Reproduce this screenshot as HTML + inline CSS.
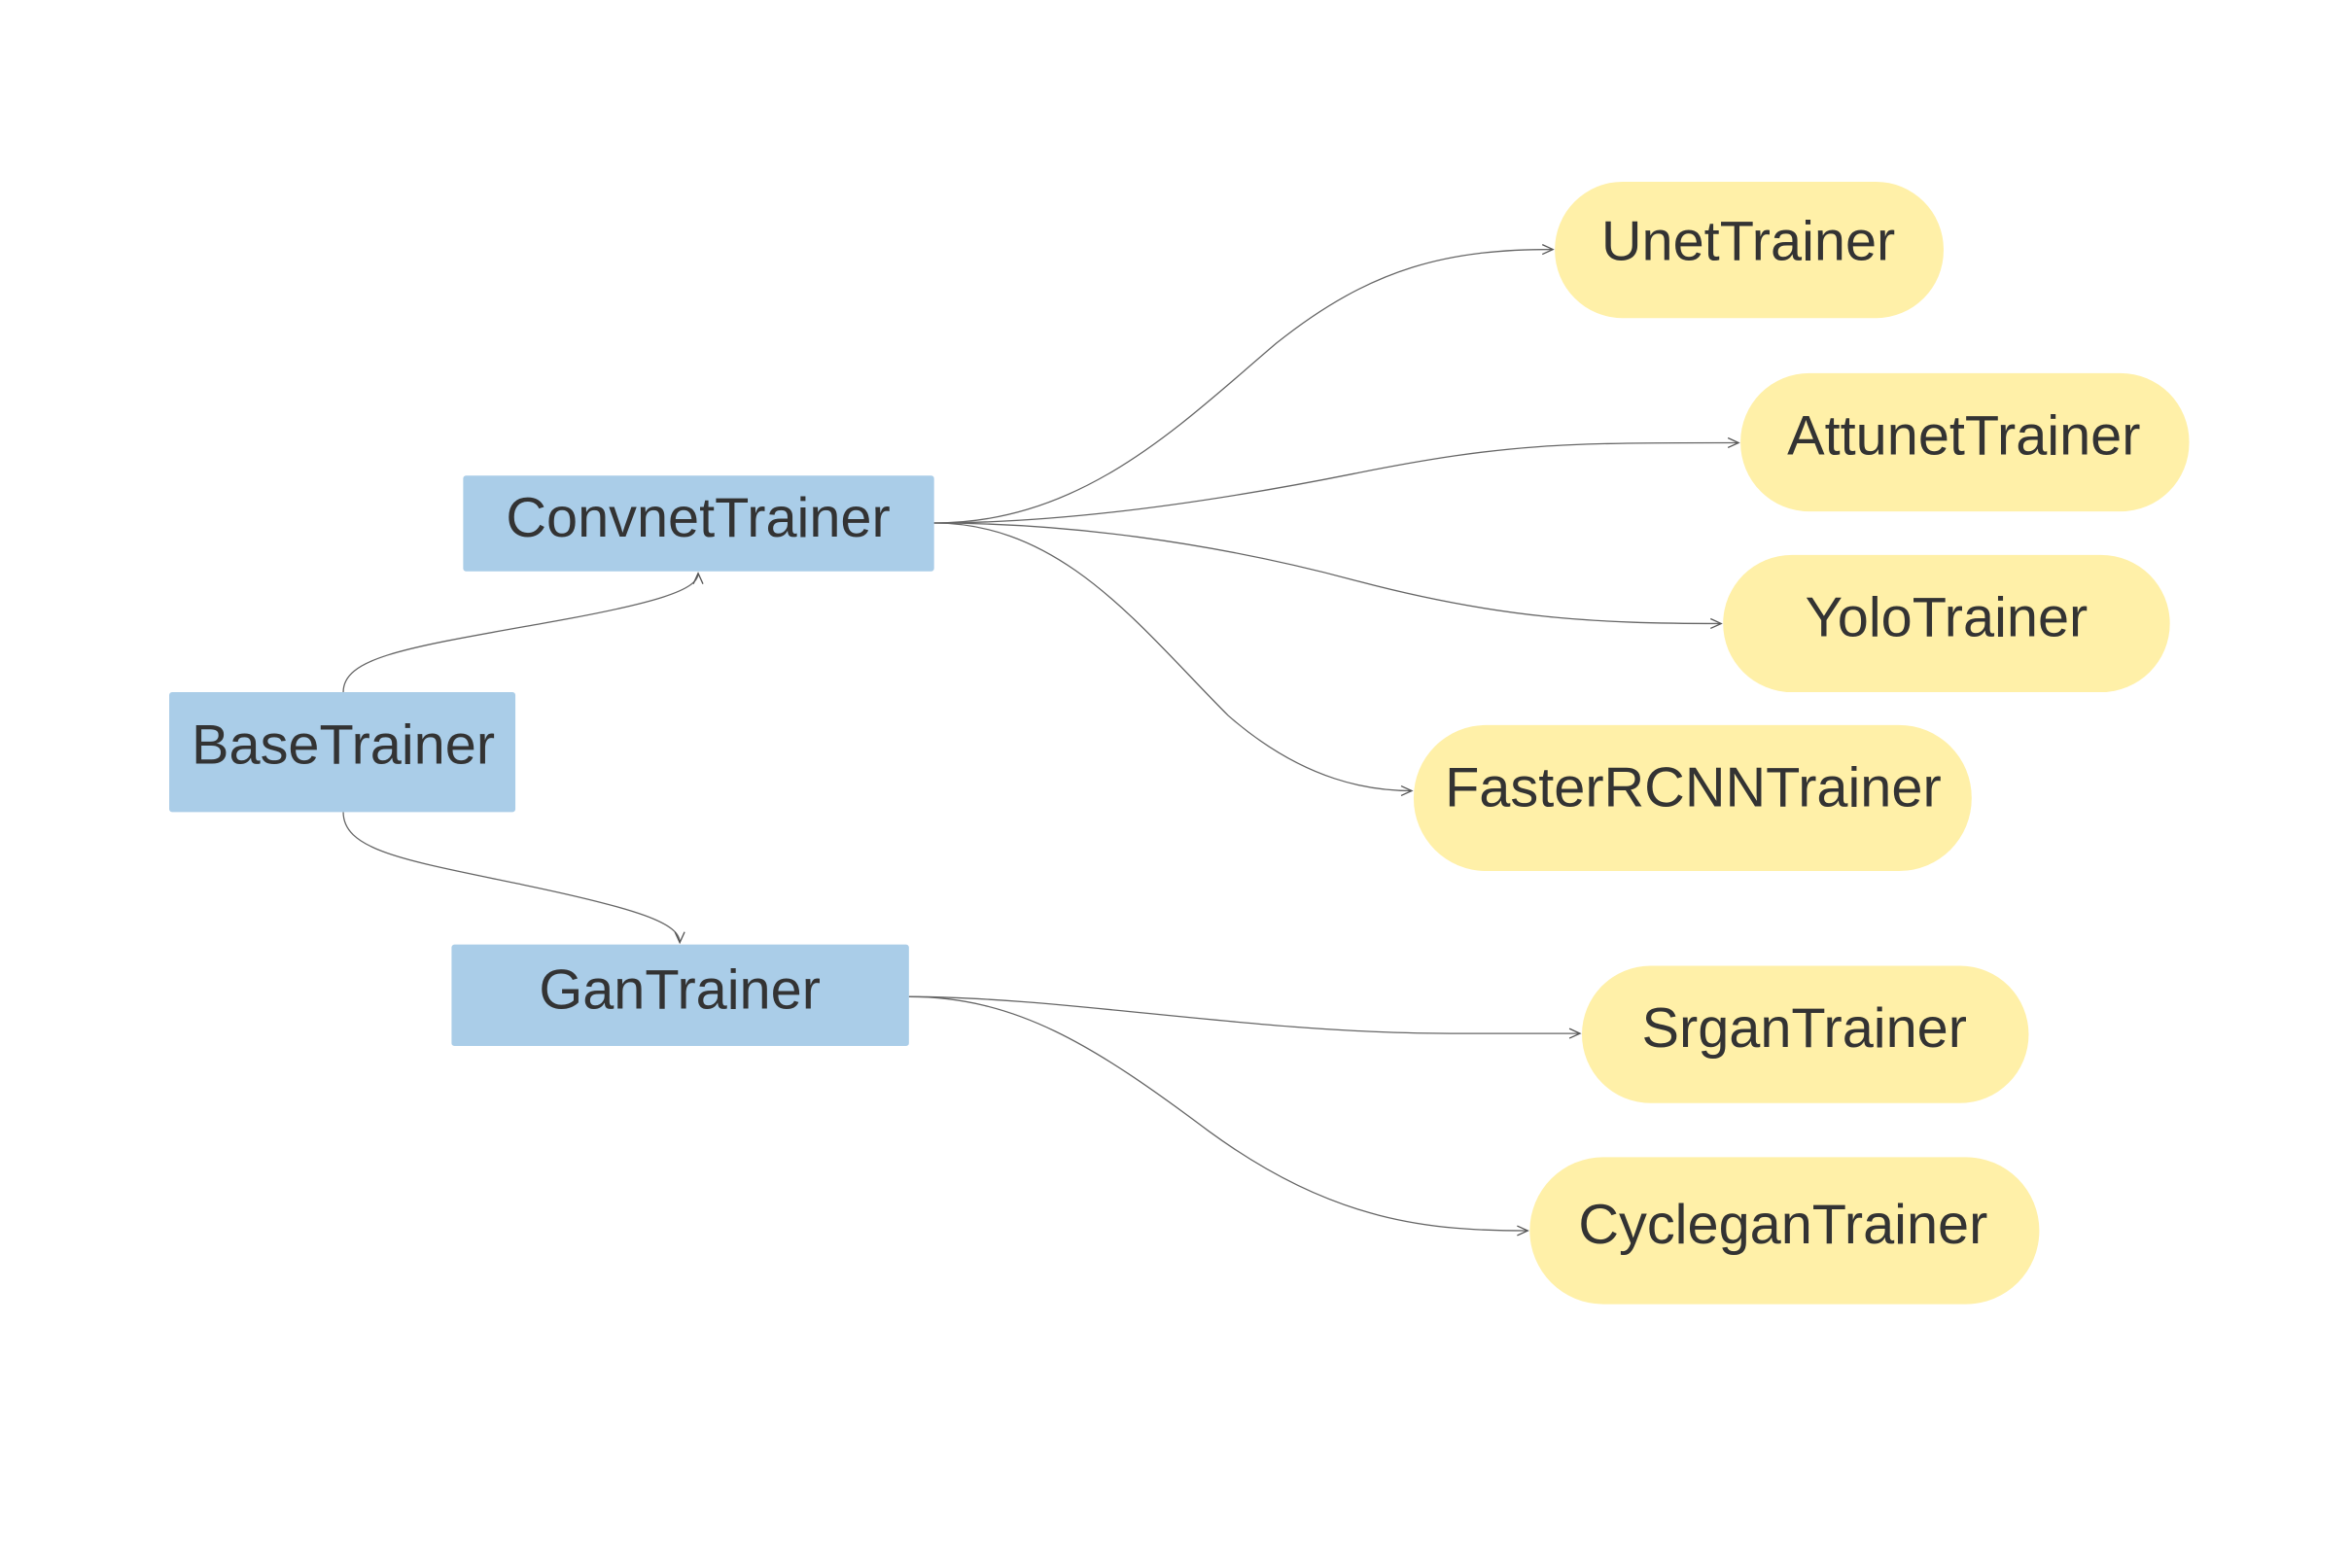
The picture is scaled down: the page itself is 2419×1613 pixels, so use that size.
<!DOCTYPE html>
<html><head><meta charset="utf-8"><style>
html,body{margin:0;padding:0;background:#fff;}
svg{display:block}
text{font-family:"Liberation Sans",sans-serif;font-size:58px;fill:#333;}
</style></head><body>
<svg width="2419" height="1613" viewBox="0 0 2419 1613" xmlns="http://www.w3.org/2000/svg">
<defs>
<marker id="a" markerWidth="14" markerHeight="14" refX="12" refY="6" orient="auto" markerUnits="userSpaceOnUse">
<path d="M1,1 L12,6 L1,11" fill="none" stroke="#555" stroke-width="1.3"/>
</marker>
</defs>
<g transform="scale(0.9945)">
<g fill="none" stroke="#666" stroke-width="1.3" marker-end="url(#a)">
<path d="M355,716 C355,680 420,670 560,645 C680,624 722,610 722,593"/>
<path d="M355,840 C355,880 420,890 540,915 C660,940 703,955 703,975"/>
<path d="M966,541 C1120,541 1220,440 1320,355 C1420,275 1500,258 1606,258"/>
<path d="M966,541 C1100,541 1250,520 1400,490 C1560,458 1620,458 1798,458"/>
<path d="M966,541 C1100,541 1250,560 1400,600 C1550,640 1650,645 1780,645"/>
<path d="M966,541 C1100,541 1180,650 1270,740 C1350,810 1420,818 1460,818"/>
<path d="M940,1031 C1100,1031 1300,1069 1500,1069 C1580,1069 1610,1069 1634,1069"/>
<path d="M940,1031 C1050,1031 1130,1080 1250,1170 C1380,1265 1480,1273 1580,1273"/>
</g>
<g fill="#aacde8">
<rect x="479" y="492" width="487" height="99" rx="3"/>
<rect x="175" y="716" width="358" height="124" rx="3"/>
<rect x="467" y="977" width="473" height="105" rx="3"/>
</g>
<g fill="#fff0a8">
<rect x="1608" y="188" width="402" height="141" rx="70"/>
<rect x="1800" y="386" width="464" height="143" rx="71"/>
<rect x="1782" y="574" width="462" height="142" rx="71"/>
<rect x="1462" y="750" width="577" height="151" rx="75"/>
<rect x="1636" y="999" width="462" height="142" rx="71"/>
<rect x="1582" y="1197" width="527" height="152" rx="76"/>
</g>
<g text-anchor="middle">
<text x="722" y="555">ConvnetTrainer</text>
<text x="355" y="790">BaseTrainer</text>
<text x="703" y="1043">GanTrainer</text>
<text x="1808" y="269">UnetTrainer</text>
<text x="2031" y="470">AttunetTrainer</text>
<text x="2013" y="658">YoloTrainer</text>
<text x="1751" y="834">FasterRCNNTrainer</text>
<text x="1866" y="1083">SrganTrainer</text>
<text x="1844" y="1286">CycleganTrainer</text>
</g>
</g>
</svg>
</body></html>
